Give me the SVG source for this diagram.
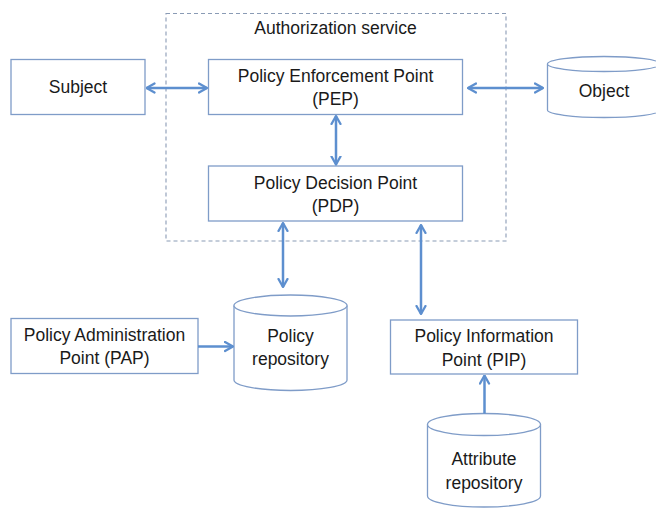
<svg xmlns="http://www.w3.org/2000/svg" width="656" height="508" viewBox="0 0 656 508">
<style>
.box{fill:#ffffff;stroke:#7f9cc8;stroke-width:1.3}
.cyl{fill:#ffffff;stroke:#7f9cc8;stroke-width:1.3}
.cont{fill:none;stroke:#8a9bb5;stroke-width:1.1;stroke-dasharray:4 3}
.lbl{font-family:"Liberation Sans",Arial,sans-serif;font-size:17.5px;fill:#1a1a1a;text-anchor:middle}
.con{stroke:#5d8fcf;stroke-width:2.5;fill:none}
</style>
<defs>
<marker id="arr" viewBox="0 0 10 12" refX="9" refY="6" markerWidth="10" markerHeight="12" markerUnits="userSpaceOnUse" orient="auto-start-reverse">
<path d="M1,1.5 L9,6 L1,10.5" fill="none" stroke="#5d8fcf" stroke-width="2.3" stroke-linejoin="round" stroke-linecap="round"/>
</marker>
</defs>
<rect width="656" height="508" fill="#ffffff"/>
<g id="authorization-service">
<rect class="cont" x="166" y="13.5" width="340" height="227.5"/>
<text class="lbl" x="335.5" y="34">Authorization service</text>
</g>
<g id="subject">
<rect class="box" x="11" y="59.5" width="134" height="55"/>
<text class="lbl" x="78" y="93">Subject</text>
</g>
<g id="pep">
<rect class="box" x="208.5" y="59.5" width="254" height="55"/>
<text class="lbl" x="335.5" y="81.5">Policy Enforcement Point</text>
<text class="lbl" x="335.5" y="105">(PEP)</text>
</g>
<g id="pdp">
<rect class="box" x="208.5" y="166" width="254" height="55"/>
<text class="lbl" x="335.5" y="188.5">Policy Decision Point</text>
<text class="lbl" x="335.5" y="212">(PDP)</text>
</g>
<g id="object">
<path class="cyl" d="M547.5,64 L547.5,110 A56.5,7.5 0 0 0 660.5,110 L660.5,64"/>
<ellipse class="cyl" cx="604" cy="64" rx="56.5" ry="7.5"/>
<text class="lbl" x="604" y="97">Object</text>
</g>
<g id="pap">
<rect class="box" x="11" y="318.5" width="187" height="55"/>
<text class="lbl" x="104.5" y="341">Policy Administration</text>
<text class="lbl" x="104.5" y="364">Point (PAP)</text>
</g>
<g id="policy-repository">
<path class="cyl" d="M234,305.5 L234,380 A56.5,10.5 0 0 0 347,380 L347,305.5"/>
<ellipse class="cyl" cx="290.5" cy="305.5" rx="56.5" ry="10.5"/>
<text class="lbl" x="290.5" y="342">Policy</text>
<text class="lbl" x="290.5" y="365">repository</text>
</g>
<g id="pip">
<rect class="box" x="390.5" y="320" width="187" height="54"/>
<text class="lbl" x="484" y="342">Policy Information</text>
<text class="lbl" x="484" y="365.5">Point (PIP)</text>
</g>
<g id="attribute-repository">
<path class="cyl" d="M427.5,424.5 L427.5,496 A56.5,11 0 0 0 540.5,496 L540.5,424.5"/>
<ellipse class="cyl" cx="484" cy="424.5" rx="56.5" ry="11"/>
<text class="lbl" x="484" y="465">Attribute</text>
<text class="lbl" x="484" y="489">repository</text>
</g>
<g id="connectors">
<line class="con" x1="146.5" y1="88" x2="207" y2="88" marker-start="url(#arr)" marker-end="url(#arr)"/>
<line class="con" x1="468" y1="88" x2="543" y2="88" marker-start="url(#arr)" marker-end="url(#arr)"/>
<line class="con" x1="336" y1="116" x2="336" y2="164.5" marker-start="url(#arr)" marker-end="url(#arr)"/>
<line class="con" x1="283" y1="223" x2="283" y2="287" marker-start="url(#arr)" marker-end="url(#arr)"/>
<line class="con" x1="421" y1="225" x2="421" y2="314" marker-start="url(#arr)" marker-end="url(#arr)"/>
<line class="con" x1="198" y1="346.5" x2="233" y2="346.5" marker-end="url(#arr)"/>
<line class="con" x1="484.5" y1="413.5" x2="484.5" y2="375.5" marker-end="url(#arr)"/>
</g>
</svg>
